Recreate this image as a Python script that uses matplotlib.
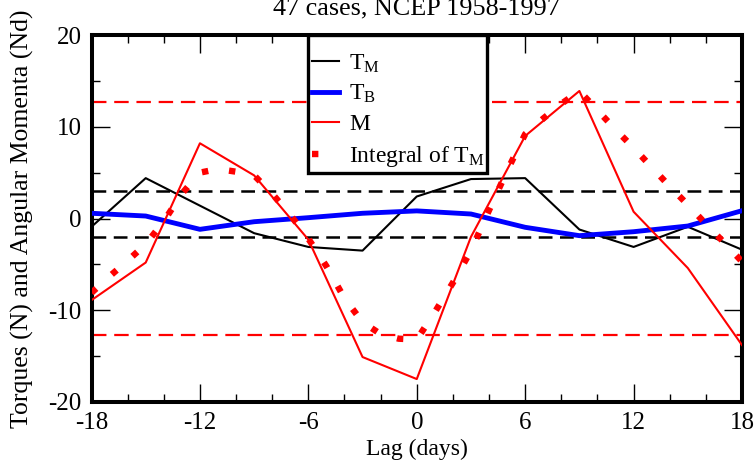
import numpy as np
import matplotlib
matplotlib.use("Agg")
import matplotlib.pyplot as plt
from matplotlib.patches import Rectangle
from matplotlib.ticker import MultipleLocator

# lag (days) of the composite, 3-day points
lag = [-18, -15, -12, -9, -6, -3, 0, 3, 6, 9, 12, 15, 18]
t_m = [-0.9, 4.4, 1.4, -1.6, -3.1, -3.5, 2.4, 4.3, 4.4, -1.2, -3.1, -0.9, -3.4]
t_b = [0.57, 0.27, -1.18, -0.35, 0.09, 0.57, 0.83, 0.49, -0.96, -1.87, -1.44, -0.82, 0.85]
m_am = [-8.9, -4.8, 8.2, 4.7, -2.3, -15.1, -17.5, -2.0, 9.0, 13.9, 0.74, -5.4, -13.8]

# integral of T_M, daily
lag_int = list(range(-18, 19))
int_tm = [-8.1, -6.3, -4.6, -2.8, -0.3, 2.7, 5.0, 5.4, 5.1, 4.7, 2.7, 0.4, -2.2,
          -5.2, -8.7, -11.3, -12.6, -13.1, -13.2, -10.2, -7.0, -3.5, 0.9, 5.2,
          9.2, 10.9, 12.5, 13.9, 11.8, 9.7, 7.7, 5.6, 3.5, 1.5, -0.6, -2.6, -4.7]

# significance levels
sig_torque = [3.05, -2.05]
sig_mom = [12.75, -12.75]

TICK_FS = 18
LABEL_FS = 17
YLABEL_FS = 18.5
TITLE_FS = 18.8
LEG_FS = 17

plt.rcParams.update({
    "font.family": "Liberation Serif",
    "mathtext.fontset": "custom",
    "mathtext.rm": "Liberation Serif",
    "mathtext.it": "Liberation Serif:italic",
    "axes.unicode_minus": False,
})

fig = plt.figure(figsize=(7.55, 4.65), dpi=100)
ax = fig.add_axes([0.1212, 0.1355, 0.8616, 0.7892])

for v in sig_mom:
    ax.axhline(v, color="#ff0000", lw=1.6, dashes=(6.5, 3.5), zorder=1)
for v in sig_torque:
    ax.axhline(v, color="black", lw=1.8, dashes=(5.5, 3.0), zorder=1)

ax.plot(lag, t_m, color="black", lw=1.5, label=r"T$_{\mathrm{M}}$", zorder=3)
ax.plot(lag, t_b, color="#0000ff", lw=3.5, label=r"T$_{\mathrm{B}}$", zorder=3)
ax.plot(lag, m_am, color="#ff0000", lw=1.5, label="M", zorder=3)
ax.plot(lag_int, int_tm, color="#ff0000", lw=4.6, linestyle=(0, (1, 3.3)),
        dash_capstyle="butt", label=r"Integral of T$_{\mathrm{M}}$", zorder=3)

ax.set_xlim(-18, 18)
ax.set_ylim(-20, 20)
ax.xaxis.set_major_locator(MultipleLocator(6))
ax.xaxis.set_minor_locator(MultipleLocator(2))
ax.yaxis.set_major_locator(MultipleLocator(10))
ax.yaxis.set_minor_locator(MultipleLocator(5))
ax.tick_params(which="both", direction="in", top=True, right=True, width=1.0,
               labelsize=TICK_FS)
ax.tick_params(which="major", length=13)
ax.tick_params(which="minor", length=6)
ax.tick_params(axis="x", pad=7)
ax.tick_params(axis="y", pad=7)
for sp in ax.spines.values():
    sp.set_linewidth(2.9)

ax.set_xlabel("Lag (days)", fontsize=LABEL_FS)
ax.xaxis.set_label_coords(0.5, -0.1)
ax.set_ylabel("Torques (N) and Angular Momenta (Nd)", fontsize=YLABEL_FS)
ax.yaxis.set_label_coords(-0.088, 0.5)

fig.text(0.552, 0.969, "47 cases, NCEP 1958-1997", ha="center", va="baseline",
         fontsize=TITLE_FS)

# legend box sits on the top spine
ax.add_patch(Rectangle((0.333, 0.624), 0.275, 0.376, transform=ax.transAxes,
                       facecolor="white", edgecolor="black", lw=2.4,
                       zorder=4, clip_on=False))
leg = ax.legend(loc="upper left", bbox_to_anchor=(0.339, 0.953),
                borderaxespad=0.0, borderpad=0.0, frameon=False,
                handlelength=1.14, handletextpad=0.43, labelspacing=0.36,
                fontsize=LEG_FS)
leg.set_zorder(5)

fig.savefig("out.png", dpi=100)
